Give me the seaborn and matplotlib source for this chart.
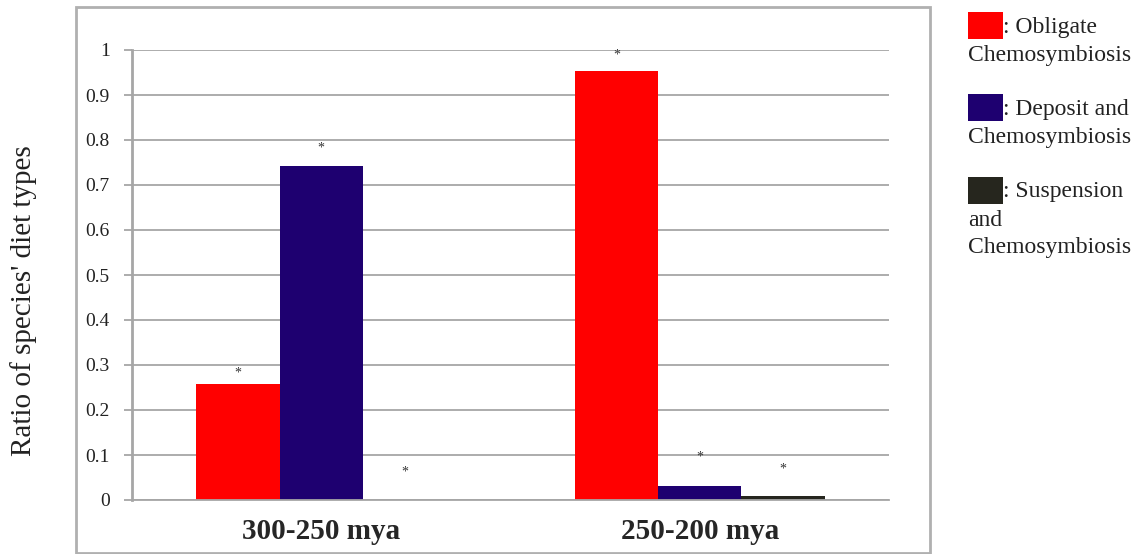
import numpy as np
import pandas as pd
import seaborn as sns
import matplotlib.pyplot as plt
from matplotlib.patches import Rectangle

sns.set_theme(style='white')
plt.rcParams['font.family'] = ['Liberation Serif', 'DejaVu Serif']

periods = ['300-250 mya', '250-200 mya']
diets = ['Obligate Chemosymbiosis', 'Deposit and Chemosymbiosis', 'Suspension and Chemosymbiosis']
obligate = [0.258, 0.954]
deposit = [0.742, 0.032]
suspension = [0.0, 0.01]
# heights of the significance asterisks
star_obligate = [0.282, 0.989]
star_deposit = [0.782, 0.096]
star_suspension = [0.062, 0.069]
legend_lines = [[': Obligate', 'Chemosymbiosis'],
                [': Deposit and', 'Chemosymbiosis'],
                [': Suspension', 'and', 'Chemosymbiosis']]
colors = ['#FF0000', '#1E0070', '#26261E']

df = pd.DataFrame({
    'period': periods * 3,
    'diet': [diets[0]] * 2 + [diets[1]] * 2 + [diets[2]] * 2,
    'ratio': obligate + deposit + suspension,
    'star': star_obligate + star_deposit + star_suspension,
})

W, H = 1147, 554
fig = plt.figure(figsize=(W / 100, H / 100), dpi=100)
ax = fig.add_axes([132 / W, 1 - 500 / H, (889 - 132) / W, 450 / H])

sns.barplot(data=df, x='period', y='ratio', hue='diet', hue_order=diets,
            palette=colors, width=0.66, gap=0, linewidth=0, saturation=1,
            legend=False, ax=ax)

# asterisks over each bar
nh = len(diets)
bw = 0.66 / nh
for i, d in enumerate(diets):
    sub = df[df['diet'] == d]
    for j, p in enumerate(periods):
        y = sub[sub['period'] == p]['star'].iloc[0]
        ax.text(j - 0.33 + bw * (i + 0.5), y, '*', ha='center', va='center',
                fontsize=10, color='#333333')

ax.set_ylim(0, 1)
ax.set_xlim(-0.5, 1.5)
ax.set_yticks(np.arange(0, 1.01, 0.1))
ax.set_yticklabels(['0'] + [f'{v:.1f}' for v in np.arange(0.1, 0.95, 0.1)] + ['1'])
ax.yaxis.grid(True, color='#A6A6A6', linewidth=1.3)
ax.set_axisbelow(True)
for s in ['top', 'right']:
    ax.spines[s].set_visible(False)
ax.spines['left'].set_color('#A6A6A6')
ax.spines['left'].set_linewidth(2)
ax.spines['bottom'].set_color('#A6A6A6')
ax.spines['bottom'].set_linewidth(1.3)
ax.tick_params(axis='y', which='major', left=True, length=6, width=1.3,
               color='#A6A6A6', pad=10, labelsize=14, labelcolor='#222222')
ax.tick_params(axis='x', bottom=False, pad=7, labelsize=21)
for lab in ax.get_xticklabels():
    lab.set_fontweight('bold')
ax.set_xlabel('')
ax.set_ylabel("Ratio of species' diet types", fontsize=21, color='#222222')
ax.yaxis.set_label_coords(-0.126, 0.444)

# chart border
fig.add_artist(Rectangle((76 / W, 1 - 553 / H), (930 - 76) / W, (553 - 7) / H,
                         transform=fig.transFigure, fill=False,
                         edgecolor='#B0B0B0', linewidth=2))

# hand-made key on the right
tops = [12, 94, 177]
for c, lines, top in zip(colors, legend_lines, tops):
    fig.add_artist(Rectangle((968 / W, 1 - (top + 27) / H), 35 / W, 27 / H,
                             transform=fig.transFigure, facecolor=c, edgecolor='none'))
    for k, line in enumerate(lines):
        x = 1003 if k == 0 else 968
        y = top + 15 + 28 * k
        fig.text(x / W, 1 - y / H, line, ha='left', va='center',
                 fontsize=17, color='#222222')

fig.savefig('out.png', dpi=100)
